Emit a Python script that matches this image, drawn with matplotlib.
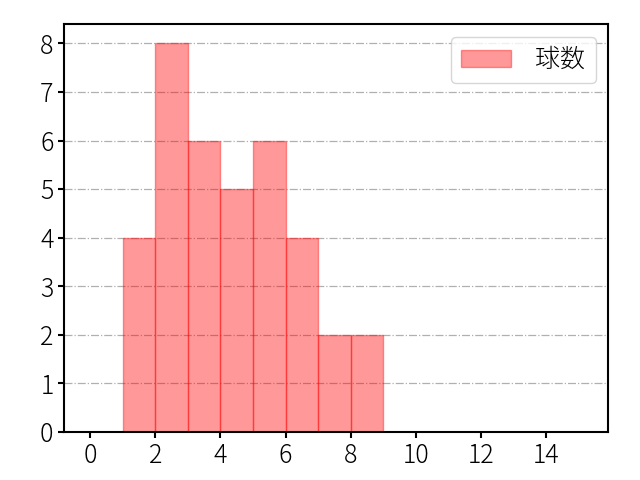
import matplotlib
matplotlib.use("Agg")
import matplotlib.pyplot as plt

plt.rcParams['font.family'] = ['Noto Sans CJK JP', 'DejaVu Sans']
plt.rcParams['font.weight'] = 'light'

# ヒストグラムの値
bin_edges = [1, 2, 3, 4, 5, 6, 7, 8, 9]
counts = [4, 8, 6, 5, 6, 4, 2, 2]
label = "球数"

fig = plt.figure(figsize=(6.4, 4.8), dpi=100)
ax = fig.add_axes([0.1, 0.1, 0.85, 0.85])

ax.hist(bin_edges[:-1], bins=bin_edges, weights=counts,
        color="red", alpha=0.4, edgecolor="red", linewidth=1, label=label)

ax.set_xlim(-0.8, 15.9)
ax.set_ylim(0, 8.4)
ax.set_xticks(range(0, 15, 2))
ax.set_yticks(range(0, 9))
ax.tick_params(labelsize=18, width=1.5, length=4)
for s in ax.spines.values():
    s.set_linewidth(1.5)
ax.grid(axis="y", linestyle="-.", color="#b0b0b0", linewidth=0.9)
ax.set_axisbelow(True)
ax.legend(loc="upper right", fontsize=18, handletextpad=1.0)

fig.savefig("out.png", dpi=100)
